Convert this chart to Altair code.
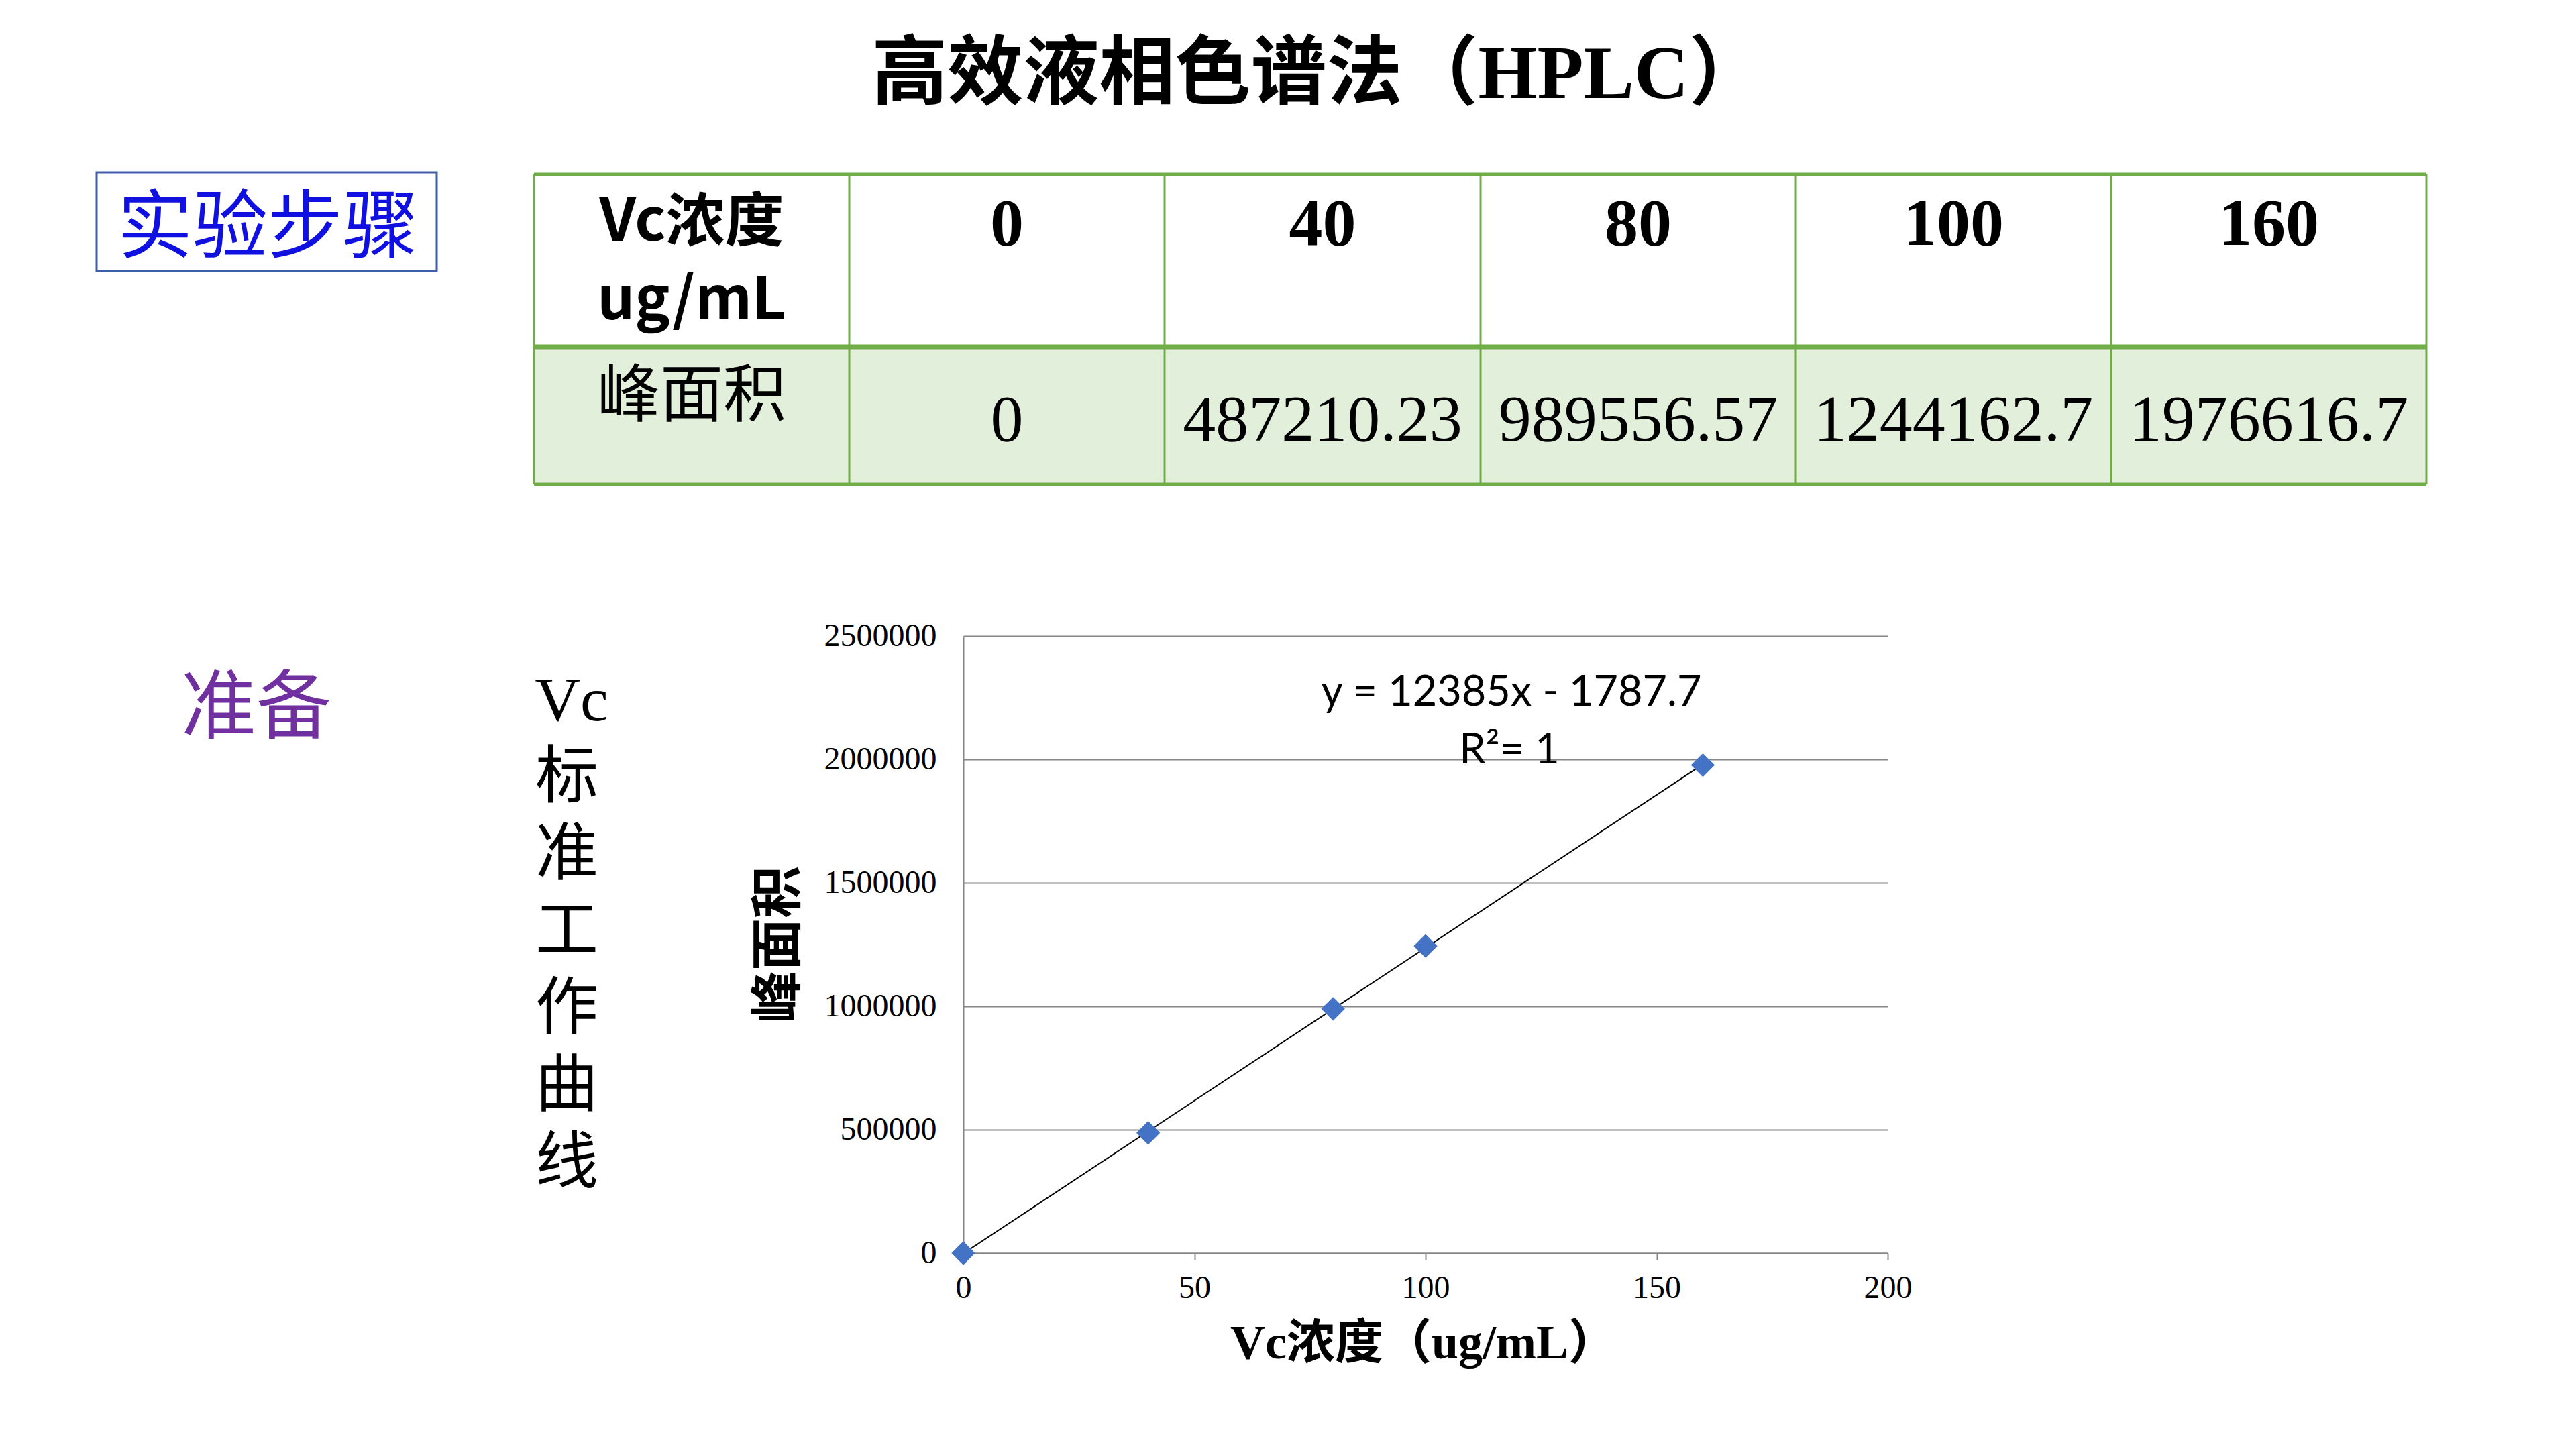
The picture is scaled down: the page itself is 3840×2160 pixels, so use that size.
import altair as alt
import pandas as pd

# ---------------- data ----------------
conc = [0, 40, 80, 100, 160]
peak_area = [0, 487210.23, 989556.57, 1244162.7, 1976616.7]
conc_labels = ["0", "40", "80", "100", "160"]
area_labels = ["0", "487210.23", "989556.57", "1244162.7", "1976616.7"]
title_text = "高效液相色谱法（HPLC）"
step_text = "实验步骤"
prep_text = "准备"
vertical_text = ["Vc", "标", "准", "工", "作", "曲", "线"]
header_label = ["Vc浓度", "ug/mL"]
row_label = "峰面积"
x_title = "Vc浓度（ug/mL）"
y_title = "峰面积"
eq_lines = ["y = 12385x - 1787.7", "R²= 1"]
y_ticks = [0, 500000, 1000000, 1500000, 2000000, 2500000]
x_ticks = [0, 50, 100, 150, 200]

# ---------------- layout (page pixels) ----------------
OX, OY = 1436, 948          # plot-area origin on the page
PW, PH = 1378, 920          # plot-area size
W, H = 3840, 2160

SERIF = "'Liberation Serif', 'Noto Sans CJK SC'"
SANS = "'Noto Sans CJK SC'"
CAL = "'Lato', 'Noto Sans CJK SC'"

col_edges = [796, 1266, 1736, 2207, 2677, 3147, 3617]
row_edges = [260, 517, 722]
GREEN = "#70AD47"


def rel(df):
    df = df.copy()
    for c in ["px", "px2"]:
        if c in df:
            df[c] = df[c] - OX
    for c in ["py", "py2"]:
        if c in df:
            df[c] = df[c] - OY
    return df


def text_layer(rows, size, color="#000000", font=SANS, weight="normal",
               align="center", baseline="middle", angle=0):
    df = rel(pd.DataFrame(rows, columns=["px", "py", "label"]))
    return alt.Chart(df).mark_text(
        font=font, fontSize=size, fontWeight=weight, color=color,
        align=align, baseline=baseline, angle=angle
    ).encode(
        x=alt.X("px:Q", scale=None, axis=None),
        y=alt.Y("py:Q", scale=None, axis=None),
        text=alt.Text("label:N"),
    )


def rect_layer(rows, **mark):
    df = rel(pd.DataFrame(rows, columns=["px", "px2", "py", "py2"]))
    return alt.Chart(df).mark_rect(**mark).encode(
        x=alt.X("px:Q", scale=None, axis=None),
        x2="px2:Q",
        y=alt.Y("py:Q", scale=None, axis=None),
        y2="py2:Q",
    )


def rule_layer(rows, color):
    df = rel(pd.DataFrame(rows, columns=["px", "px2", "py", "py2", "w"]))
    return alt.Chart(df).mark_rule(color=color).encode(
        x=alt.X("px:Q", scale=None, axis=None),
        x2="px2:Q",
        y=alt.Y("py:Q", scale=None, axis=None),
        y2="py2:Q",
        strokeWidth=alt.StrokeWidth("w:Q", scale=None),
    )


# ---------------- scatter plot ----------------
pts = pd.DataFrame({"conc": conc, "area": peak_area})
xs = alt.Scale(domain=[0, 200], nice=False)
ys = alt.Scale(domain=[0, 2500000], nice=False)
x_enc = alt.X("conc:Q", scale=xs, axis=alt.Axis(
    values=x_ticks, title=None, grid=False, labelFont=SERIF, labelFontSize=48,
    labelColor="#000000", labelPadding=18, labelFlush=False, tickSize=10,
    tickColor="#868686", tickWidth=2, domainColor="#868686", domainWidth=2))
y_enc = alt.Y("area:Q", scale=ys, axis=alt.Axis(
    values=y_ticks, format="d", title=None, grid=True, gridColor="#868686",
    gridWidth=2, ticks=False, labelFont=SERIF, labelFontSize=48,
    labelColor="#000000", labelPadding=40, labelFlush=False,
    domainColor="#868686", domainWidth=2))

base = alt.Chart(pts)
trend = base.transform_regression("conc", "area", extent=[0, 160]).mark_line(
    color="#000000", strokeWidth=2).encode(x=x_enc, y=y_enc)
points = base.mark_point(shape="diamond", filled=True, size=1250,
                         color="#4472C4", opacity=1).encode(x=x_enc, y=y_enc)
scatter = alt.layer(trend, points)

# ---------------- table ----------------
L, R = col_edges[0], col_edges[-1]
fill = rect_layer([[L, R, row_edges[1], row_edges[2]]], fill="#E2EFDA", strokeWidth=0)
hlines = [[L, R, row_edges[0], row_edges[0], 5],
          [L, R, row_edges[1], row_edges[1], 7],
          [L, R, row_edges[2], row_edges[2], 5]]
vlines = [[c, c, row_edges[0], row_edges[2], 3] for c in col_edges]
lines = rule_layer(vlines + hlines, GREEN)

centers = [(col_edges[i] + col_edges[i + 1]) / 2 for i in range(len(col_edges) - 1)]
hdr = text_layer([[centers[0], 333, header_label[0]], [centers[0], 450, header_label[1]]],
                 88, weight="bold")
hdr_nums = text_layer([[centers[i + 1], 335, conc_labels[i]] for i in range(len(conc_labels))],
                      100, font=SERIF, weight="bold")
row_lab = text_layer([[centers[0], 593, row_label]], 94)
row_vals = text_layer([[centers[i + 1], 628, area_labels[i]] for i in range(len(area_labels))],
                      98, font=SERIF)

# ---------------- other slide text ----------------
title = text_layer([[1965, 112, title_text]], 113, font=SERIF, weight="bold")
box = rect_layer([[144, 651, 257, 404]], fill="#FFFFFF", stroke="#3F5EAA", strokeWidth=3)
step = text_layer([[399, 342, step_text]], 112, color="#1010E0")
prep = text_layer([[382, 1058, prep_text]], 112, color="#7030A0")
vert_rows = [[852 if i == 0 else 845, 1046 + i * 115, t] for i, t in enumerate(vertical_text)]
vert = text_layer(vert_rows, 94, font=SERIF)
ytitle = text_layer([[1163, 1408, y_title]], 78, weight="bold", angle=270)
xtitle = text_layer([[2122, 2003, x_title]], 72, font=SERIF, weight="bold")
eq = text_layer([[2253, 1033, eq_lines[0]], [2250, 1119, eq_lines[1]]], 63, font=CAL)

chart = alt.layer(
    scatter, fill, lines, hdr, hdr_nums, row_lab, row_vals,
    title, box, step, prep, vert, ytitle, xtitle, eq
).resolve_scale(x="independent", y="independent").properties(
    width=PW, height=PH,
    autosize=alt.AutoSizeParams(type="none"),
    padding={"left": OX, "top": OY, "right": W - OX - PW, "bottom": H - OY - PH},
    background="#FFFFFF",
).configure_view(stroke=None)

chart.save("out.html", embed_options={"renderer": "svg", "actions": False})
